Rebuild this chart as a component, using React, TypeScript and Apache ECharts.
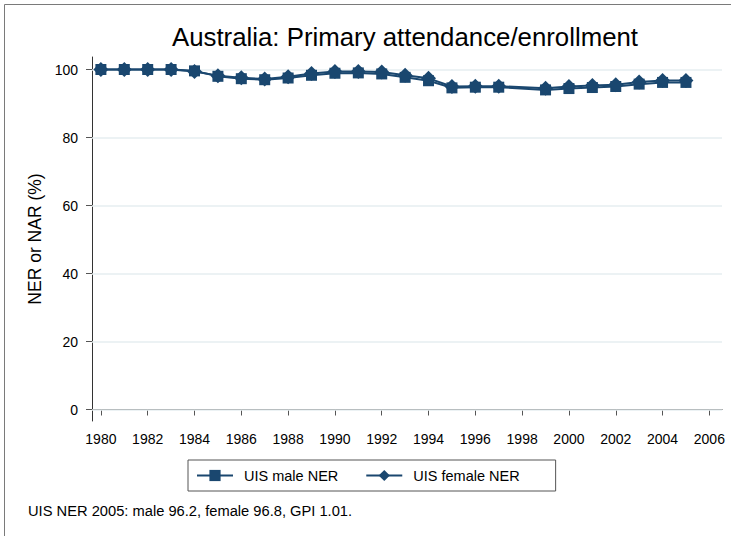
import React, { useEffect, useRef } from "react";
import * as echarts from "echarts";

const years = [1980, 1981, 1982, 1983, 1984, 1985, 1986, 1987, 1988, 1989, 1990, 1991, 1992, 1993, 1994, 1995, 1996, 1997, 1999, 2000, 2001, 2002, 2003, 2004, 2005];
const maleNER = [100, 100, 100, 100, 99.6, 98.0, 97.3, 97.0, 97.5, 98.3, 98.9, 99.0, 98.7, 97.7, 96.7, 94.6, 94.8, 94.8, 94.0, 94.4, 94.7, 95.0, 95.7, 96.2, 96.2];
const femaleNER = [100, 100, 100, 100, 99.4, 98.2, 97.6, 97.2, 97.9, 98.8, 99.4, 99.4, 99.3, 98.3, 97.4, 95.0, 95.1, 95.1, 94.5, 95.0, 95.3, 95.5, 96.3, 96.8, 96.8];
const xTicks = [1980, 1982, 1984, 1986, 1988, 1990, 1992, 1994, 1996, 1998, 2000, 2002, 2004, 2006];
const yTicks = [0, 20, 40, 60, 80, 100];
const seriesNames = ["UIS male NER", "UIS female NER"];
const titleText = "Australia: Primary attendance/enrollment";
const noteText = "UIS NER 2005: male 96.2, female 96.8, GPI 1.01.";
const yAxisName = "NER or NAR (%)";

const FONT = "'Liberation Sans', Arial, sans-serif";
const NAVY = "#1a476f";

export default function App() {
  const ref = useRef<HTMLDivElement>(null);
  useEffect(() => {
    if (!ref.current) return;
    const chart = echarts.init(ref.current, null, { renderer: "svg" });
    const toPairs = (vals: number[]) => years.map((y, i) => [y, vals[i]]);
    chart.setOption({
      animation: false,
      backgroundColor: "#fff",
      textStyle: { fontFamily: FONT },
      graphic: [
        {
          type: "rect",
          shape: { x: 4.5, y: 4.5, width: 900, height: 700 },
          style: { fill: "none", stroke: "#7a7a7a", lineWidth: 1 },
          silent: true,
        },
      ],
      title: [
        {
          text: titleText,
          left: 172,
          top: 24,
          padding: 0,
          textStyle: { fontFamily: FONT, fontSize: 25.8, fontWeight: "normal", color: "#000" },
        },
        {
          text: noteText,
          left: 28,
          top: 503,
          padding: 0,
          textStyle: { fontFamily: FONT, fontSize: 14.7, fontWeight: "normal", color: "#000" },
        },
      ],
      legend: {
        data: seriesNames,
        left: 188,
        top: 460,
        orient: "horizontal",
        padding: [8, 36, 8, 8],
        itemGap: 27,
        itemWidth: 36,
        itemHeight: 14,
        borderColor: "#555",
        borderWidth: 1,
        textStyle: { fontFamily: FONT, fontSize: 14.5, color: "#000", padding: [0, 0, 0, 6] },
      },
      grid: { left: 92, right: 9, top: 57, bottom: 115, containLabel: false },
      xAxis: {
        type: "value",
        min: 1979.62,
        max: 2006.54,
        axisLine: { show: true, lineStyle: { color: "#333", width: 1 } },
        axisTick: { show: true, length: 6, customValues: xTicks, lineStyle: { color: "#555" } },
        axisLabel: {
          customValues: xTicks,
          margin: 11,
          fontSize: 14,
          color: "#000",
          fontFamily: FONT,
          formatter: (v: number) => String(Math.round(v)),
        },
        splitLine: { show: false },
      },
      yAxis: {
        type: "value",
        min: -3.38,
        max: 103.68,
        name: yAxisName,
        nameLocation: "middle",
        nameGap: 44,
        nameTextStyle: { fontFamily: FONT, fontSize: 17.5, color: "#000" },
        axisLine: { show: true, lineStyle: { color: "#333", width: 1 } },
        axisTick: { show: true, length: 6, customValues: yTicks, lineStyle: { color: "#555" } },
        axisLabel: {
          customValues: yTicks,
          margin: 14,
          fontSize: 14,
          color: "#000",
          fontFamily: FONT,
          formatter: (v: number) => String(Math.round(v)),
        },
        splitLine: { show: false },
      },
      series: [
        {
          name: seriesNames[0],
          type: "line",
          data: toPairs(maleNER),
          symbol: "rect",
          symbolSize: 11,
          color: NAVY,
          lineStyle: { color: NAVY, width: 2 },
          itemStyle: { color: NAVY },
          z: 3,
          markLine: {
            silent: true,
            symbol: "none",
            label: { show: false },
            lineStyle: { color: "#e6eef0", width: 1.5, type: "solid" },
            data: yTicks.map((v) => ({ yAxis: v })),
            z: 1,
          },
        },
        {
          name: seriesNames[1],
          type: "line",
          data: toPairs(femaleNER),
          symbol: "diamond",
          symbolSize: 15,
          color: NAVY,
          lineStyle: { color: NAVY, width: 2 },
          itemStyle: { color: NAVY },
          z: 4,
        },
      ],
    });
    return () => chart.dispose();
  }, []);
  return (
    <div
      ref={ref}
      style={{ position: "fixed", left: 0, top: 0, width: 731, height: 536 }}
    />
  );
}
